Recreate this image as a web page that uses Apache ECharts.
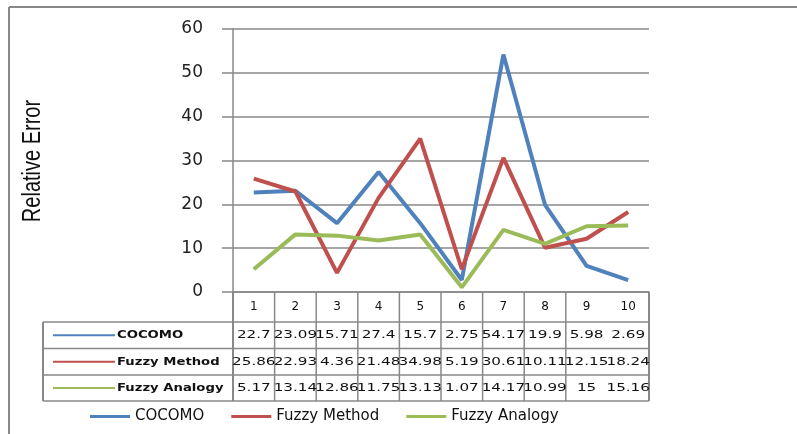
<!DOCTYPE html>
<html>
<head>
<meta charset="utf-8">
<style>
    html, body { margin: 0; padding: 0; background: #fff; }
    #chart { width: 797px; height: 434px; }
</style>
<script src="https://cdn.jsdelivr.net/npm/echarts@6/dist/echarts.min.js"></script>
</head>
<body>
<div id="chart"></div>
<script>
    const categories = ['1', '2', '3', '4', '5', '6', '7', '8', '9', '10'];
    const seriesNames = ['COCOMO', 'Fuzzy Method', 'Fuzzy Analogy'];
    const cocomo = [22.7, 23.09, 15.71, 27.4, 15.7, 2.75, 54.17, 19.9, 5.98, 2.69];
    const fuzzyMethod = [25.86, 22.93, 4.36, 21.48, 34.98, 5.19, 30.61, 10.11, 12.15, 18.24];
    const fuzzyAnalogy = [5.17, 13.14, 12.86, 11.75, 13.13, 1.07, 14.17, 10.99, 15, 15.16];
    const colors = ['#4F81BD', '#C0504D', '#9BBB59'];

    const gridColor = '#888888';
    const seriesData = [cocomo, fuzzyMethod, fuzzyAnalogy];

    let chart = echarts.init(document.getElementById('chart'));

    chart.setOption({
        animation: false,
        grid: {left: 233, top: 29, width: 416, height: 263},
        legend: {
            data: seriesNames,
            left: 85,
            top: 404,
            icon: 'rect',
            itemWidth: 40,
            itemHeight: 3,
            itemGap: 27,
            textStyle: {fontFamily: 'DejaVu Sans', fontSize: 15, color: '#111'}
        },
        xAxis: {
            type: 'category',
            data: categories,
            axisLine: {lineStyle: {color: gridColor, width: 1.5}},
            axisTick: {show: false},
            axisLabel: {margin: 9, fontFamily: 'DejaVu Sans', fontSize: 12, color: '#111'}
        },
        yAxis: {
            type: 'value',
            min: 0,
            max: 60,
            interval: 10,
            axisLine: {show: true, lineStyle: {color: gridColor, width: 1.5}},
            axisTick: {show: true, length: 11, lineStyle: {color: gridColor, width: 1.5}},
            axisLabel: {margin: 30, fontFamily: 'DejaVu Sans', fontSize: 17, color: '#222'},
            splitLine: {lineStyle: {color: gridColor, width: 1.5}}
        },
        series: seriesNames.map((name, i) => ({
            name: name,
            type: 'line',
            data: seriesData[i],
            symbol: 'none',
            lineStyle: {width: 4, color: colors[i]},
            itemStyle: {color: colors[i]}
        }))
    });

    // 数据表 (table under the axis)
    let c0 = chart.convertToPixel({xAxisIndex: 0}, 0);
    let c1 = chart.convertToPixel({xAxisIndex: 0}, 1);
    let band = c1 - c0;
    let axisLeft = c0 - band / 2;
    let axisRight = axisLeft + band * categories.length;
    let axisY = chart.convertToPixel({yAxisIndex: 0}, 0);
    let rowTops = [322, 348.5, 375, 401];
    let tableLeft = 43;

    let elements = [];
    let line = (x1, y1, x2, y2, w) => elements.push({
        type: 'line',
        silent: true,
        shape: {x1: x1, y1: y1, x2: x2, y2: y2},
        style: {stroke: gridColor, lineWidth: w || 1.5}
    });

    // outer border
    line(9, 7, 797, 7, 2);
    line(9, 7, 9, 434, 2);

    // row lines
    rowTops.forEach(y => line(tableLeft, y, axisRight, y));
    line(tableLeft, rowTops[0], tableLeft, rowTops[3], 2);
    line(axisRight, axisY, axisRight, rowTops[3], 2);
    line(axisLeft, axisY, axisLeft, rowTops[3], 2);

    // column lines (none between 9 and 10)
    for (let i = 1; i < categories.length; i++) {
        if (i === 9) continue;
        let x = axisLeft + band * i;
        line(x, axisY, x, rowTops[3]);
    }

    seriesNames.forEach((name, r) => {
        let cy = (rowTops[r] + rowTops[r + 1]) / 2;
        elements.push({
            type: 'line',
            silent: true,
            shape: {x1: 53, y1: cy, x2: 115, y2: cy},
            style: {stroke: colors[r], lineWidth: 2}
        });
        elements.push({
            type: 'text',
            silent: true,
            x: 117,
            y: cy,
            scaleX: 1.2,
            style: {
                text: name, x: 0, y: 0, align: 'left', verticalAlign: 'middle',
                font: 'bold 11px "DejaVu Sans"', fill: '#111'
            }
        });
        seriesData[r].forEach((v, i) => {
            elements.push({
                type: 'text',
                silent: true,
                x: axisLeft + band * (i + 0.5),
                y: cy,
                scaleX: 1.38,
                style: {
                    text: String(v), x: 0, y: 0, align: 'center', verticalAlign: 'middle',
                    font: '11px "DejaVu Sans"', fill: '#111'
                }
            });
        });
    });

    // y-axis title
    elements.push({
        type: 'text',
        silent: true,
        x: 33,
        y: 161,
        rotation: Math.PI / 2,
        scaleY: 1.3,
        style: {
            text: 'Relative Error', x: 0, y: 0, align: 'center', verticalAlign: 'middle',
            font: '20px "Liberation Sans"', fill: '#111'
        }
    });

    chart.setOption({graphic: {elements: elements}});
</script>
</body>
</html>
